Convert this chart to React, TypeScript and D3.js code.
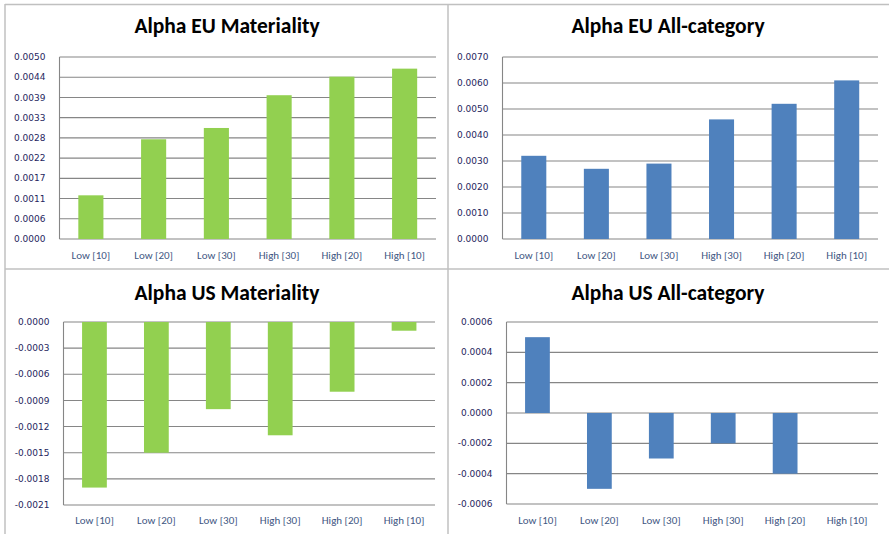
import React from "react";
import * as d3 from "d3";

const categories = ["Low [10]", "Low [20]", "Low [30]", "High [30]", "High [20]", "High [10]"];

const euMateriality = [0.0012, 0.00274, 0.00305, 0.00395, 0.00446, 0.00468];
const euAllCategory = [0.0032, 0.0027, 0.0029, 0.0046, 0.0052, 0.0061];
const usMateriality = [-0.0019, -0.0015, -0.001, -0.0013, -0.0008, -0.0001];
const usAllCategory = [0.0005, -0.0005, -0.0003, -0.0002, -0.0004, 0];

const euMatTicks = ["0.0000", "0.0006", "0.0011", "0.0017", "0.0022", "0.0028", "0.0033", "0.0039", "0.0044", "0.0050"];
const euAllTicks = ["0.0000", "0.0010", "0.0020", "0.0030", "0.0040", "0.0050", "0.0060", "0.0070"];
const usMatTicks = ["-0.0021", "-0.0018", "-0.0015", "-0.0012", "-0.0009", "-0.0006", "-0.0003", "0.0000"];
const usAllTicks = ["-0.0006", "-0.0004", "-0.0002", "0.0000", "0.0002", "0.0004", "0.0006"];

const GREEN = "#92d050";
const BLUE = "#4f81bd";

interface PanelProps {
  title: string;
  values: number[];
  ticks: string[];
  domain: [number, number];
  color: string;
  box: { x0: number; x1: number; y0: number; y1: number };
  titleY: number;
  titleX: number;
  labelY: number;
}

const Panel = ({ title, values, ticks, domain, color, box, titleY, titleX, labelY }: PanelProps) => {
  const x = d3
    .scaleBand()
    .domain(categories)
    .range([box.x0, box.x1])
    .paddingInner(0.6)
    .paddingOuter(0.3);
  const y = d3.scaleLinear().domain(domain).range([box.y1, box.y0]);
  // tick values are evenly spread over the domain, labels come from the array
  const tickVals = ticks.map((_, i) => domain[0] + ((domain[1] - domain[0]) * i) / (ticks.length - 1));

  return (
    <g>
      <text
        x={titleX}
        y={titleY}
        textAnchor="middle"
        fontFamily="Carlito, Lato, sans-serif"
        fontWeight="bold"
        fontSize={21.5}
        fill="#000"
      >
        {title}
      </text>
      {tickVals.map((v, i) => (
        <g key={i}>
          <line x1={box.x0} x2={box.x1} y1={y(v)} y2={y(v)} stroke="#868686" strokeWidth={1.1} />
          <text
            x={box.x0 - 14}
            y={y(v)}
            dy="0.35em"
            textAnchor="end"
            fontFamily="DejaVu Sans, sans-serif"
            fontSize={9}
            fill="#26265e"
          >
            {ticks[i]}
          </text>
        </g>
      ))}
      <line x1={box.x0} x2={box.x0} y1={box.y0} y2={box.y1} stroke="#868686" strokeWidth={1.1} />
      {values.map((v, i) => (
        <rect
          key={i}
          x={x(categories[i])}
          width={x.bandwidth()}
          y={Math.min(y(v), y(0))}
          height={Math.abs(y(v) - y(0))}
          fill={color}
        />
      ))}
      {categories.map((c) => (
        <text
          key={c}
          x={(x(c) ?? 0) + x.bandwidth() / 2}
          y={labelY}
          textAnchor="middle"
          fontFamily="Carlito, Lato, sans-serif"
          fontSize={11}
          fill="#3f5783"
        >
          {c}
        </text>
      ))}
    </g>
  );
};

export default function App() {
  return (
    <svg
      width={889}
      height={534}
      viewBox="0 0 889 534"
      style={{ position: "absolute", left: 0, top: 0, background: "#fff" }}
    >
      <rect x={0} y={0} width={889} height={534} fill="#fff" />
      {/* panel frame */}
      <line x1={5} x2={889} y1={4.5} y2={4.5} stroke="#c0c0c0" strokeWidth={1.5} />
      <line x1={5} x2={5} y1={4} y2={534} stroke="#c0c0c0" strokeWidth={1.5} />
      <line x1={448} x2={448} y1={4} y2={534} stroke="#c0c0c0" strokeWidth={1.5} />
      <line x1={5} x2={889} y1={269} y2={269} stroke="#c0c0c0" strokeWidth={1.5} />

      <Panel
        title="Alpha EU Materiality"
        values={euMateriality}
        ticks={euMatTicks}
        domain={[0, 0.005]}
        color={GREEN}
        box={{ x0: 59.5, x1: 436, y0: 57, y1: 239 }}
        titleX={227}
        titleY={33}
        labelY={259}
      />
      <Panel
        title="Alpha EU All-category"
        values={euAllCategory}
        ticks={euAllTicks}
        domain={[0, 0.007]}
        color={BLUE}
        box={{ x0: 502.5, x1: 878, y0: 57, y1: 239 }}
        titleX={668}
        titleY={33}
        labelY={259}
      />
      <Panel
        title="Alpha US Materiality"
        values={usMateriality}
        ticks={usMatTicks}
        domain={[-0.0021, 0]}
        color={GREEN}
        box={{ x0: 63.5, x1: 435, y0: 322, y1: 505 }}
        titleX={227}
        titleY={300}
        labelY={524}
      />
      <Panel
        title="Alpha US All-category"
        values={usAllCategory}
        ticks={usAllTicks}
        domain={[-0.0006, 0.0006]}
        color={BLUE}
        box={{ x0: 506.5, x1: 878, y0: 322, y1: 504 }}
        titleX={668}
        titleY={300}
        labelY={524}
      />
    </svg>
  );
}
